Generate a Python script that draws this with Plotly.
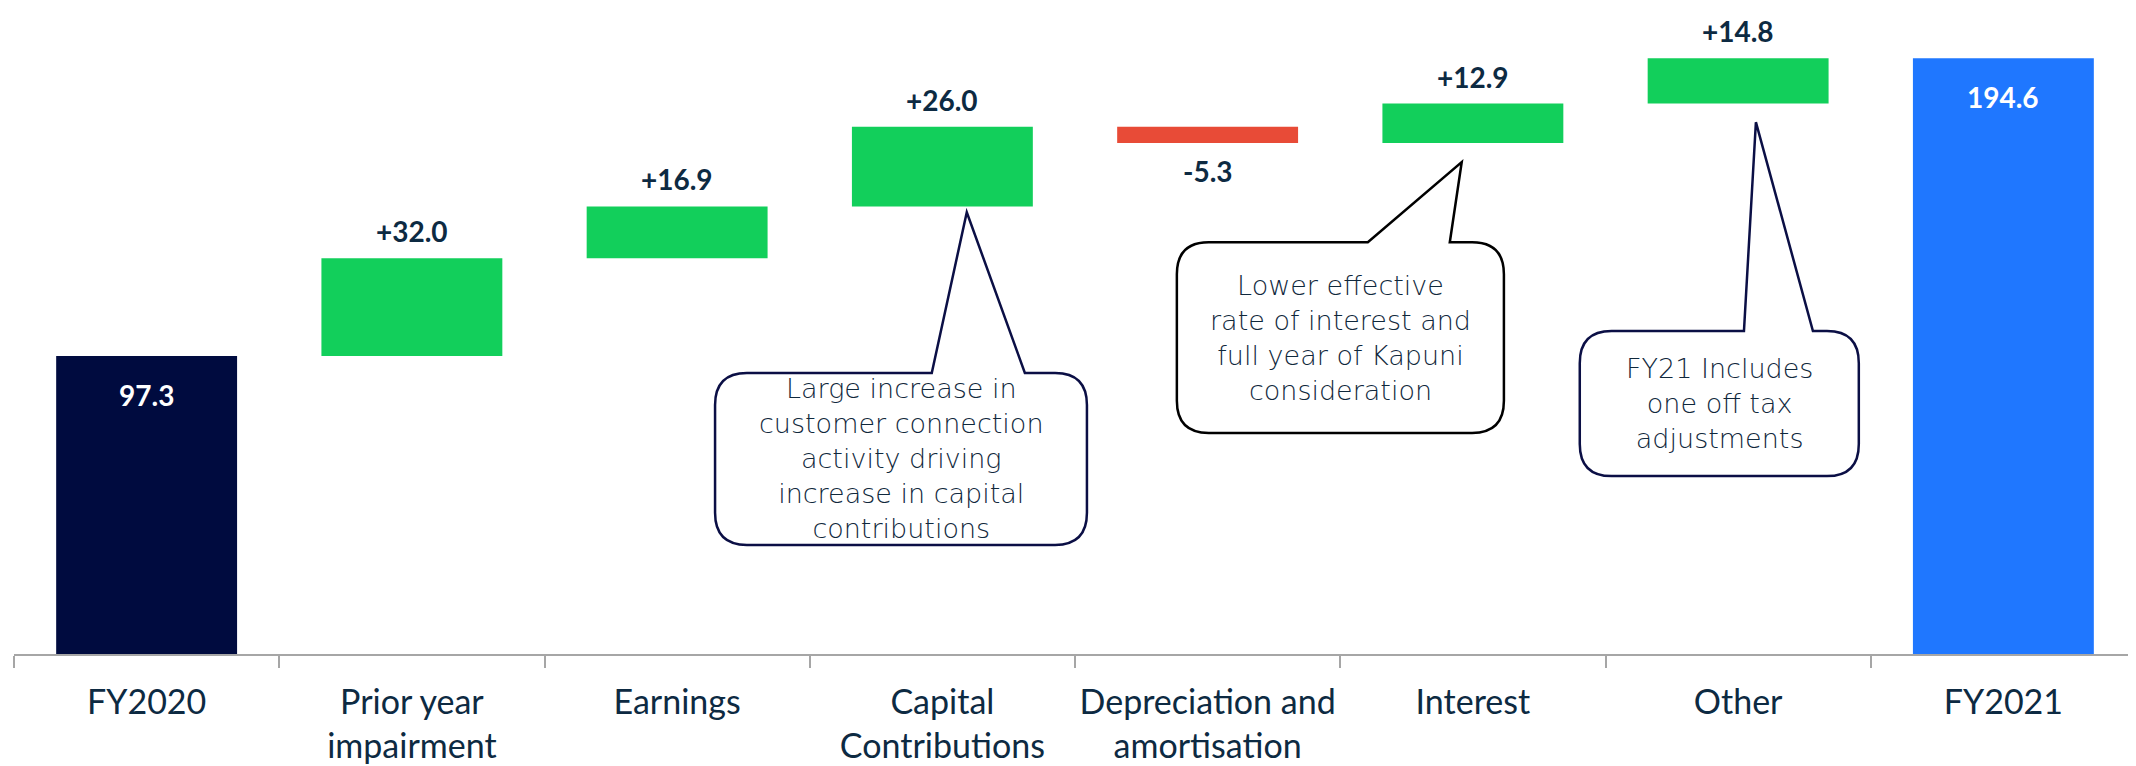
import plotly.graph_objects as go

# Categories and values (NZ$m bridge FY2020 -> FY2021)
categories = ["FY2020", "Prior year<br>impairment", "Earnings", "Capital<br>Contributions",
              "Depreciation and<br>amortisation", "Interest", "Other", "FY2021"]
opening = 97.3
changes = [32.0, 16.9, 26.0, -5.3, 12.9, 14.8]
closing = 194.6

# Colours
NAVY = "#000B3F"
GREEN = "#12CF5B"
RED = "#E84B37"
BLUE = "#1F77FF"
TEXT = "#0D2A42"

# Build floating bars from the running total
bases = [0]
heights = [opening]
colors = [NAVY]
running = opening
for c in changes:
    bases.append(running)
    heights.append(c)
    colors.append(GREEN if c >= 0 else RED)
    running += c
bases.append(0)
heights.append(closing)
colors.append(BLUE)

fig = go.Figure()
fig.add_trace(go.Bar(
    x=categories, y=heights, base=bases,
    marker=dict(color=colors, line=dict(width=0)),
    width=0.682, hoverinfo="skip", showlegend=False,
))

# Value labels
annotations = []
for i, cat in enumerate(categories):
    top = bases[i] + max(heights[i], 0)
    bottom = bases[i] + min(heights[i], 0)
    if i == 0 or i == len(categories) - 1:
        annotations.append(dict(x=cat, y=top, text=f"{heights[i]:.1f}", showarrow=False,
                                yanchor="top", yshift=-20,
                                font=dict(family="Lato", size=28, color="white", weight="bold")))
    elif heights[i] >= 0:
        annotations.append(dict(x=cat, y=top, text=f"+{heights[i]:.1f}", showarrow=False,
                                yanchor="bottom", yshift=8,
                                font=dict(family="Lato", size=28, color=TEXT, weight="bold")))
    else:
        annotations.append(dict(x=cat, y=bottom, text=f"{heights[i]:.1f}", showarrow=False,
                                yanchor="top", yshift=-9,
                                font=dict(family="Lato", size=28, color=TEXT, weight="bold")))


# Speech-bubble callouts (x in category index units, y in value units)
def bubble(x0, x1, y0, y1, tip, bl, br, rx=0.12, ry=10.5):
    tx, ty = tip
    return (f"M {x0+rx},{y1} L {bl},{y1} L {tx},{ty} L {br},{y1} L {x1-rx},{y1} "
            f"Q {x1},{y1} {x1},{y1-ry} L {x1},{y0+ry} Q {x1},{y0} {x1-rx},{y0} "
            f"L {x0+rx},{y0} Q {x0},{y0} {x0},{y0+ry} L {x0},{y1-ry} Q {x0},{y1} {x0+rx},{y1} Z")


callouts = [
    dict(box=(2.143, 3.545, 35.6, 91.8), tip=(3.092, 144.3), base=(2.960, 3.311), color="#0B0F45",
         text="Large increase in<br>customer connection<br>activity driving<br>increase in capital<br>contributions"),
    dict(box=(3.884, 5.117, 72.2, 134.5), tip=(4.958, 160.7), base=(4.604, 4.913), color="#000000",
         text="Lower effective<br>rate of interest and<br>full year of Kapuni<br>consideration"),
    dict(box=(5.403, 6.455, 58.1, 105.5), tip=(6.067, 173.7), base=(6.022, 6.282), color="#0B0F45",
         text="FY21 Includes<br>one off tax<br>adjustments"),
]

shapes = []
for c in callouts:
    x0, x1, y0, y1 = c["box"]
    shapes.append(dict(type="path", xref="x", yref="y",
                       path=bubble(x0, x1, y0, y1, c["tip"], *c["base"]),
                       line=dict(color=c["color"], width=2.5), fillcolor="white", layer="above"))
    annotations.append(dict(x=(x0 + x1) / 2, y=(y0 + y1) / 2, xref="x", yref="y", text=c["text"],
                            showarrow=False, xanchor="center", yanchor="middle", align="center",
                            font=dict(family="DejaVu Sans", size=27, color="#10283C", weight=200)))

# page body has an 8px margin, so the figure is sized to fit inside the window
fig.update_layout(
    width=2128, height=758,
    margin=dict(l=6, r=0, t=0, b=112),
    paper_bgcolor="white", plot_bgcolor="white",
    shapes=shapes, annotations=annotations,
    xaxis=dict(
        type="category", range=[-0.5, 7.5], automargin=False,
        showline=True, linecolor="#A6A6A6", linewidth=2,
        ticks="outside", tickson="boundaries", ticklen=12, tickcolor="#A6A6A6", tickwidth=1.5,
        ticklabelstandoff=17, tickangle=0,
        tickfont=dict(family="Lato", size=34, color=TEXT),
        showgrid=False, zeroline=False, fixedrange=True,
    ),
    yaxis=dict(range=[0, 211.0], visible=False, showgrid=False, zeroline=False, fixedrange=True),
)

fig.write_html("out.html")
